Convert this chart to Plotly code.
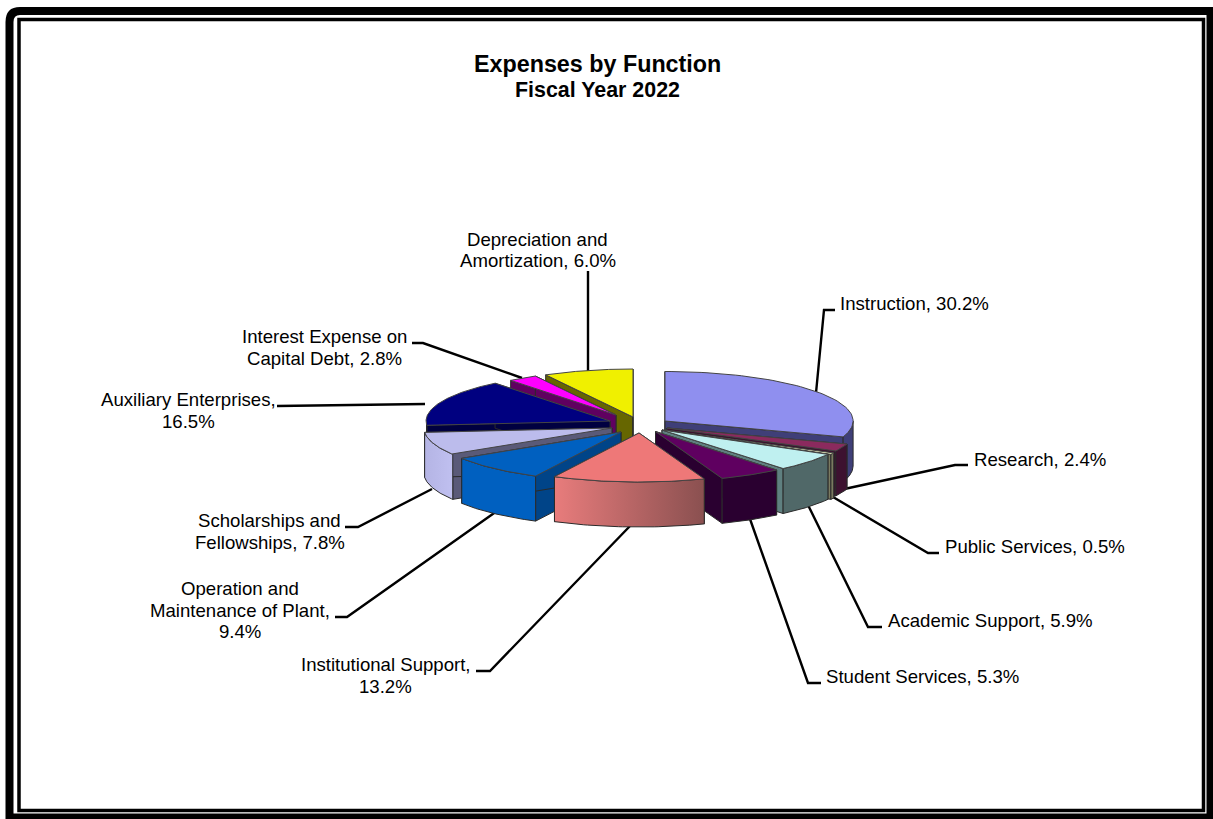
import numpy as np
import plotly.graph_objects as go

# Share of total expenses by function, clockwise from twelve o'clock
FUNCTIONS = ["Instruction", "Research", "Public Services", "Academic Support", "Student Services",
             "Institutional Support", "Operation and Maintenance of Plant", "Scholarships and Fellowships",
             "Auxiliary Enterprises", "Interest Expense on Capital Debt", "Depreciation and Amortization"]
SHARES = [30.2, 2.4, 0.5, 5.9, 5.3, 13.2, 9.4, 7.8, 16.5, 2.8, 6.0]

# Exploded centre of each wedge on the canvas, and a per-wedge radius factor
CENTRES = [(665, 421), (667, 428), (665, 430), (662, 430), (655.5, 431.5), (639, 433),
           (621, 432), (612, 428), (610, 421), (616, 415), (633, 417)]
RADIUS_FACTOR = [0.99, 1, 1, 1, 1, 0.98, 0.99, 0.99, 0.968, 0.887, 0.96]

TOP = ["#8f8fef", "#8b2a5e", "#f6f6c8", "#bff0f0", "#5f0060", "#ee7878",
       "#0060c0", "#bcbcec", "#000080", "#ff00ff", "#f0f000"]
CUT = ["#3f3f78", "#3d1230", "#7a7a60", "#5f8080", "#2a0030", "#8a5050",
       "#004488", "#5a5a78", "#000040", "#600060", "#666600"]
WALL_LEFT = ["#3f3f78", "#3d1230", "#7a7a60", "#506868", "#2a0030", "#e87c7c",
             "#0060c0", "#b4b4e4", "#000040", "#600060", "#666600"]
WALL_RIGHT = ["#3f3f78", "#3d1230", "#7a7a60", "#506868", "#2a0030", "#8a5050",
              "#0060c0", "#c0c0f0", "#000040", "#600060", "#666600"]

# Back wedges first so that nearer wedges paint over them
DRAW_ORDER = [10, 9, 8, 7, 6, 0, 1, 2, 3, 4, 5]

# One entry per text line: centre x, centre y, text
LABEL_LINES = [
    (914.5, 303, "Instruction, 30.2%"),
    (1040, 459, "Research, 2.4%"),
    (1034.5, 546, "Public Services, 0.5%"),
    (990, 620, "Academic Support, 5.9%"),
    (922.5, 676, "Student Services, 5.3%"),
    (385.5, 664, "Institutional Support,"),
    (385.5, 686, "13.2%"),
    (240, 588, "Operation and"),
    (240, 610, "Maintenance of Plant,"),
    (240, 631, "9.4%"),
    (269.5, 520, "Scholarships and"),
    (269.5, 542, "Fellowships, 7.8%"),
    (188, 399, "Auxiliary Enterprises,"),
    (188, 421, "16.5%"),
    (324, 336, "Interest Expense on"),
    (324, 358, "Capital Debt, 2.8%"),
    (537.5, 239, "Depreciation and"),
    (537.5, 260, "Amortization, 6.0%"),
]
# Leader polylines
LEADERS = [
    ([816, 824, 835], [393, 310, 310]),
    ([835, 955, 968], [491, 465, 465]),
    ([833, 928, 939], [497, 553, 553]),
    ([808, 868, 882], [505, 627, 627]),
    ([750, 808, 821], [519, 683, 683]),
    ([630, 490, 476], [526, 671, 671]),
    ([497, 347, 335], [511, 617, 617]),
    ([432, 358, 345], [489, 527, 527]),
    ([425, 283, 277], [404, 406, 406]),
    ([522, 423, 412], [378, 343, 343]),
    ([588, 588], [372, 271]),
]

RX, RY, DEPTH = 190.0, 50.0, 45.0
FONT = "Liberation Sans, Arial, sans-serif"


def view_angle(theta):
    """Bend the true sweep angle the way the tilted view does on the back left."""
    return theta + np.interp(theta, [0, 207, 240.8, 268.9, 328.3, 338.4, 360],
                             [0, 0, -3, -4, -7, -7, 0])


def rim(i, theta):
    cx, cy = CENTRES[i]
    t = np.radians(view_angle(np.asarray(theta, dtype=float)))
    f = RADIUS_FACTOR[i]
    return cx + RX * f * np.sin(t), cy - RY * f * np.cos(t)


def poly(xs, ys, fill, line, gradient=None):
    kw = {"fillgradient": gradient} if gradient else {"fillcolor": fill}
    return go.Scatter(x=list(xs) + [xs[0]], y=list(ys) + [ys[0]], mode="lines", fill="toself",
                      line=dict(color=line, width=1), hoverinfo="skip", showlegend=False, **kw)


fig = go.Figure()

# Leaders sit underneath the wedges
for lx, ly in LEADERS:
    fig.add_trace(go.Scatter(x=lx, y=ly, mode="lines", line=dict(color="black", width=2.4),
                             hoverinfo="skip", showlegend=False))

edges = np.cumsum([0] + SHARES) * 3.6

for i in DRAW_ORDER:
    a, b = edges[i], edges[i + 1]
    cx, cy = CENTRES[i]
    # Cut faces at both ends of the wedge
    for ang in (a, b):
        ex, ey = rim(i, ang)
        fig.add_trace(poly([cx, float(ex), float(ex), cx], [cy, float(ey), float(ey) + DEPTH, cy + DEPTH],
                           CUT[i], "#2a2a2a"))
    # Outer wall, only the part facing the viewer
    lo, hi = max(a, 90.0), min(b, 270.0)
    if hi > lo:
        th = np.linspace(lo, hi, 40)
        wx, wy = rim(i, th)
        xs = np.concatenate([wx, wx[::-1]])
        ys = np.concatenate([wy, wy[::-1] + DEPTH])
        grad = dict(type="horizontal",
                    colorscale=[[0, WALL_LEFT[i]], [1, WALL_RIGHT[i]]],
                    start=float(wx.min()), stop=float(wx.max()))
        fig.add_trace(poly(xs, ys, None, "#2a2a2a", grad))
    # Top face
    th = np.linspace(a, b, 60)
    tx, ty = rim(i, th)
    fig.add_trace(poly([cx] + list(tx), [cy] + list(ty), TOP[i], "#444444"))

annotations = [dict(x=x, y=y, xref="x", yref="y", text=t, showarrow=False,
                    font=dict(family=FONT, size=18.6, color="black")) for x, y, t in LABEL_LINES]
annotations += [
    dict(x=597.5, y=64, xref="x", yref="y", text="<b>Expenses by Function</b>", showarrow=False,
         font=dict(family=FONT, size=23.3, color="black")),
    dict(x=597.5, y=90, xref="x", yref="y", text="<b>Fiscal Year 2022</b>", showarrow=False,
         font=dict(family=FONT, size=21.4, color="black")),
]

# Double page frame: heavy rounded outer rule and thin inner rule
frame = [
    dict(type="path", path="M 9.5,820 L 9.5,22 Q 9.5,11 20,11 L 1210.5,11 L 1210.5,817.5 L 9.5,817.5 Z",
         line=dict(color="black", width=8), fillcolor="rgba(0,0,0,0)", layer="below"),
    dict(type="rect", x0=19, y0=19.5, x1=1203.5, y1=810.5,
         line=dict(color="black", width=3.5), fillcolor="rgba(0,0,0,0)", layer="below"),
]

fig.update_layout(
    width=1213, height=819, margin=dict(l=0, r=0, t=0, b=0),
    paper_bgcolor="white", plot_bgcolor="white", showlegend=False,
    xaxis=dict(range=[0, 1213], visible=False, fixedrange=True),
    yaxis=dict(range=[819, 0], visible=False, fixedrange=True),
    annotations=annotations, shapes=frame,
)
fig.write_html("out.html", config={"displayModeBar": False})
